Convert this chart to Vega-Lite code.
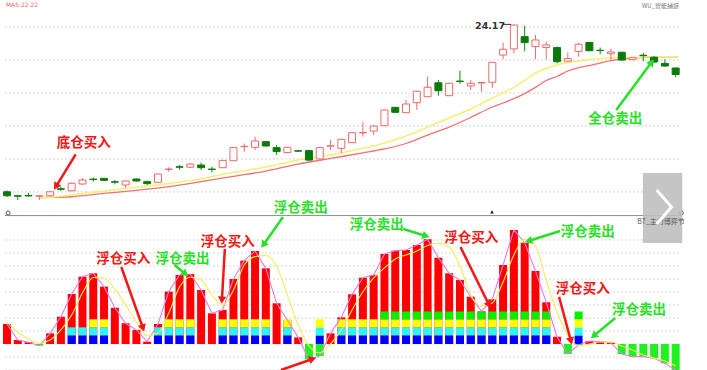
{
"$schema": "https://vega.github.io/schema/vega-lite/v6.json",
"padding": 0,
"autosize": {"type": "none"},
"width": 707,
"height": 370,
"background": "#ffffff",
"config": {"view": {"stroke": null}},
"resolve": {"scale": {"y": "independent"}},
"datasets": {
"gridTop": [{"g":14.07},{"g":16.06},{"g":18.05},{"g":20.03},{"g":22.02},{"g":24.01}],
"gridBot": [{"g":-20},{"g":-10},{"g":0},{"g":10},{"g":20},{"g":30},{"g":40},{"g":50},{"g":60},{"g":70},{"g":80}],
"frame": [{"v":98.8}],
"candles": [
{"i":0,"o":14.08,"c":13.84,"h":14.16,"l":13.77},
{"i":1,"o":13.84,"c":13.81,"h":13.89,"l":13.58},
{"i":2,"o":13.86,"c":13.83,"h":14.02,"l":13.78},
{"i":3,"o":13.81,"c":13.84,"h":13.86,"l":13.58},
{"i":4,"o":13.84,"c":14.08,"h":14.13,"l":13.80},
{"i":5,"o":14.26,"c":14.23,"h":14.39,"l":14.13},
{"i":6,"o":14.14,"c":14.59,"h":14.64,"l":14.10},
{"i":7,"o":14.55,"c":14.79,"h":14.91,"l":14.49},
{"i":8,"o":14.84,"c":14.82,"h":14.95,"l":14.69},
{"i":9,"o":14.89,"c":14.77,"h":14.91,"l":14.73},
{"i":10,"o":14.68,"c":14.66,"h":14.79,"l":14.53},
{"i":11,"o":14.49,"c":14.73,"h":14.76,"l":14.31},
{"i":12,"o":14.85,"c":14.73,"h":14.88,"l":14.70},
{"i":13,"o":14.69,"c":14.57,"h":14.76,"l":14.49},
{"i":14,"o":14.65,"c":15.15,"h":15.18,"l":14.64},
{"i":15,"o":15.42,"c":15.45,"h":15.56,"l":15.29},
{"i":16,"o":15.59,"c":15.56,"h":15.69,"l":15.41},
{"i":17,"o":15.56,"c":15.75,"h":15.81,"l":15.51},
{"i":18,"o":15.69,"c":15.53,"h":15.84,"l":15.39},
{"i":19,"o":15.45,"c":15.42,"h":15.59,"l":15.25},
{"i":20,"o":15.53,"c":15.97,"h":16.00,"l":15.51},
{"i":21,"o":15.95,"c":16.74,"h":16.78,"l":15.94},
{"i":22,"o":16.80,"c":16.82,"h":16.98,"l":16.50},
{"i":23,"o":16.76,"c":17.14,"h":17.40,"l":16.60},
{"i":24,"o":17.10,"c":16.84,"h":17.14,"l":16.78},
{"i":25,"o":16.74,"c":16.50,"h":16.90,"l":16.30},
{"i":26,"o":16.44,"c":16.76,"h":16.78,"l":16.39},
{"i":27,"o":16.55,"c":16.53,"h":16.60,"l":16.48},
{"i":28,"o":16.56,"c":15.99,"h":16.60,"l":15.94},
{"i":29,"o":16.06,"c":16.74,"h":16.78,"l":16.03},
{"i":30,"o":16.83,"c":16.85,"h":17.20,"l":16.60},
{"i":31,"o":16.70,"c":17.24,"h":17.26,"l":16.40},
{"i":32,"o":17.04,"c":17.64,"h":17.68,"l":17.02},
{"i":33,"o":17.63,"c":17.65,"h":18.30,"l":17.40},
{"i":34,"o":17.74,"c":18.04,"h":18.10,"l":17.50},
{"i":35,"o":18.06,"c":19.01,"h":19.04,"l":18.04},
{"i":36,"o":19.17,"c":18.87,"h":19.19,"l":18.85},
{"i":37,"o":18.85,"c":19.37,"h":19.61,"l":18.83},
{"i":38,"o":19.45,"c":20.14,"h":20.18,"l":19.01},
{"i":39,"o":19.81,"c":20.38,"h":21.02,"l":19.79},
{"i":40,"o":20.65,"c":20.17,"h":20.82,"l":19.87},
{"i":41,"o":19.87,"c":20.62,"h":20.64,"l":19.85},
{"i":42,"o":20.75,"c":20.73,"h":21.38,"l":20.59},
{"i":43,"o":20.46,"c":20.62,"h":20.82,"l":20.21},
{"i":44,"o":20.64,"c":20.67,"h":20.70,"l":20.11},
{"i":45,"o":20.68,"c":21.88,"h":21.90,"l":20.34},
{"i":46,"o":22.32,"c":22.67,"h":23.07,"l":22.07},
{"i":47,"o":22.69,"c":24.13,"h":24.17,"l":22.43},
{"i":48,"o":23.43,"c":23.07,"h":24.09,"l":22.54},
{"i":49,"o":22.83,"c":23.23,"h":23.53,"l":22.07},
{"i":50,"o":22.78,"c":22.93,"h":23.13,"l":22.07},
{"i":51,"o":22.77,"c":21.92,"h":22.83,"l":21.82},
{"i":52,"o":21.95,"c":22.11,"h":22.48,"l":21.93},
{"i":53,"o":22.54,"c":22.97,"h":23.07,"l":22.22},
{"i":54,"o":23.08,"c":22.58,"h":23.11,"l":22.57},
{"i":55,"o":22.61,"c":22.59,"h":22.77,"l":22.37},
{"i":56,"o":22.40,"c":22.51,"h":22.70,"l":22.02},
{"i":57,"o":22.49,"c":22.02,"h":22.51,"l":21.99},
{"i":58,"o":22.04,"c":22.16,"h":22.17,"l":22.02},
{"i":59,"o":22.31,"c":22.29,"h":22.46,"l":21.95},
{"i":60,"o":22.19,"c":21.90,"h":22.26,"l":21.87},
{"i":61,"o":21.82,"c":21.66,"h":22.07,"l":21.62},
{"i":62,"o":21.54,"c":21.15,"h":21.57,"l":20.98}
],
"ma": [
{"i":3,"m1":13.73,"m2":13.73},{"i":4,"m1":13.75,"m2":13.74},{"i":6,"m1":13.89,"m2":13.78},
{"i":9,"m1":14.13,"m2":13.98},{"i":12,"m1":14.36,"m2":14.17},{"i":15,"m1":14.58,"m2":14.39},
{"i":18,"m1":14.87,"m2":14.69},{"i":21,"m1":15.25,"m2":15.01},{"i":24,"m1":15.57,"m2":15.33},
{"i":27,"m1":16.00,"m2":15.75},{"i":30,"m1":16.30,"m2":16.09},{"i":33,"m1":16.70,"m2":16.42},
{"i":35,"m1":17.02,"m2":16.66},{"i":37,"m1":17.44,"m2":16.99},{"i":39,"m1":17.98,"m2":17.50},
{"i":41,"m1":18.53,"m2":17.98},{"i":43,"m1":19.07,"m2":18.56},{"i":45,"m1":19.73,"m2":19.19},
{"i":46,"m1":20.03,"m2":19.43},{"i":47,"m1":20.37,"m2":19.70},{"i":48,"m1":20.79,"m2":20.00},
{"i":49,"m1":21.24,"m2":20.37},{"i":50,"m1":21.52,"m2":20.79},{"i":51,"m1":21.72,"m2":21.03},
{"i":52,"m1":21.87,"m2":21.36},{"i":53,"m1":21.96,"m2":21.57},{"i":54,"m1":22.05,"m2":21.69},
{"i":55,"m1":22.11,"m2":21.84},{"i":56,"m1":22.16,"m2":21.99},{"i":57,"m1":22.17,"m2":22.08},
{"i":58,"m1":22.19,"m2":22.13},{"i":59,"m1":22.20,"m2":22.19},{"i":60,"m1":22.22,"m2":22.20},
{"i":61,"m1":22.22,"m2":22.22},{"i":62.2,"m1":22.22,"m2":22.22}
],
"osc": [
{"i":0,"v":15.4,"lvl":0,"m":16.9},{"i":1,"v":3.1,"lvl":0,"m":9.2},{"i":2,"v":1.3,"lvl":0,"m":3.8},
{"i":3,"v":-1.3,"lvl":0,"m":0.8},{"i":4,"v":8.2,"lvl":0,"m":3.1},{"i":5,"v":21,"lvl":0,"m":10.8},
{"i":6,"v":38.5,"lvl":2,"m":22.3},{"i":7,"v":51.8,"lvl":2,"m":39.2},{"i":8,"v":54.4,"lvl":3,"m":51.2},
{"i":9,"v":44.1,"lvl":3,"m":50.8},{"i":10,"v":27.9,"lvl":0,"m":42.3},{"i":11,"v":15.9,"lvl":0,"m":30},
{"i":12,"v":10.8,"lvl":0,"m":16.9},{"i":13,"v":1.8,"lvl":0,"m":6.2},{"i":14,"v":15.4,"lvl":2,"m":8.5},
{"i":15,"v":40.3,"lvl":3,"m":23.8},{"i":16,"v":53.1,"lvl":3,"m":43.8},{"i":17,"v":53.8,"lvl":3,"m":51.5},
{"i":18,"v":41.5,"lvl":0,"m":49.2},{"i":19,"v":23.6,"lvl":0,"m":37.7},{"i":20,"v":26.2,"lvl":3,"m":30},
{"i":21,"v":50,"lvl":3,"m":41.5},{"i":22,"v":64.1,"lvl":3,"m":60.8},{"i":23,"v":71.5,"lvl":3,"m":67.2},
{"i":24,"v":58.2,"lvl":3,"m":68.1},{"i":25,"v":31.3,"lvl":0,"m":60},{"i":26,"v":18.5,"lvl":3,"m":37.7},
{"i":27,"v":5.1,"lvl":0,"m":14.6},{"i":28,"v":-11.8,"lvl":0,"m":-1.5},{"i":29,"v":-9.2,"lvl":3,"m":-6.9},
{"i":30,"v":8.2,"lvl":0,"m":0},{"i":31,"v":20.5,"lvl":3,"m":10.8},{"i":32,"v":38.2,"lvl":3,"m":26.2},
{"i":33,"v":51,"lvl":3,"m":40.2},{"i":34,"v":53.1,"lvl":3,"m":50.8},{"i":35,"v":69.2,"lvl":4,"m":58.5},
{"i":36,"v":71.8,"lvl":4,"m":65.4},{"i":37,"v":72.3,"lvl":4,"m":68.5},{"i":38,"v":76.2,"lvl":4,"m":71.5},
{"i":39,"v":80.5,"lvl":4,"m":75.8},{"i":40,"v":66.4,"lvl":4,"m":77.5},{"i":41,"v":54.4,"lvl":4,"m":74.6},
{"i":42,"v":49.2,"lvl":4,"m":60},{"i":43,"v":36.4,"lvl":4,"m":37.7},{"i":44,"v":25.1,"lvl":4,"m":29.2},
{"i":45,"v":34.4,"lvl":4,"m":31.5},{"i":46,"v":60.8,"lvl":4,"m":47.7},{"i":47,"v":87.7,"lvl":4,"m":68.5},
{"i":48,"v":77.9,"lvl":4,"m":80.8},{"i":49,"v":56.2,"lvl":4,"m":75.4},{"i":50,"v":32.1,"lvl":4,"m":49.2},
{"i":51,"v":5.6,"lvl":0,"m":24.6},{"i":52,"v":-7.7,"lvl":0,"m":6.9},{"i":53,"v":-0.8,"lvl":4,"m":-1.5},
{"i":54,"v":2.3,"lvl":0,"m":0},{"i":55,"v":1.8,"lvl":0,"m":1.5},{"i":56,"v":0.8,"lvl":0,"m":1.5},
{"i":57,"v":-7.7,"lvl":0,"m":-1.5},{"i":58,"v":-9.7,"lvl":0,"m":-4.6},{"i":59,"v":-9.7,"lvl":0,"m":-8.5},
{"i":60,"v":-11,"lvl":0,"m":-10.8},{"i":61,"v":-14.9,"lvl":0,"m":-13.1},{"i":62,"v":-20,"lvl":0,"m":-16.9}
],
"annTop": [
{"i":7.13,"p":17.02,"t":"底仓买入","kind":"buy"},
{"i":56.4,"p":18.47,"t":"全仓卖出","kind":"sell"}
],
"arrTop": [
{"i1":6.37,"p1":16.34,"i2":4.54,"p2":14.39,"kind":"buy","heading":211},
{"i1":56.49,"p1":19.01,"i2":59.78,"p2":21.90,"kind":"sell","heading":37}
],
"high": [{"i":44.79,"p":24.07,"t":"24.17","i2":46.75,"p2":24.17,"i0":45.98}],
"tiny": [
{"i":-0.1,"p":25.33,"t":"MA5:22.22","pos":"left"},
{"i":60.6,"p":25.28,"t":"WU_智能捕捉","pos":"right"}
],
"annBot": [
{"i":10.79,"v":65.4,"t":"浮仓买入","kind":"buy"},
{"i":16.27,"v":65.4,"t":"浮仓卖出","kind":"sell"},
{"i":20.48,"v":78.5,"t":"浮仓买入","kind":"buy"},
{"i":27.24,"v":104.6,"t":"浮仓卖出","kind":"sell"},
{"i":34.28,"v":91.5,"t":"浮仓卖出","kind":"sell"},
{"i":43.05,"v":81.5,"t":"浮仓买入","kind":"buy"},
{"i":53.84,"v":86.2,"t":"浮仓卖出","kind":"sell"},
{"i":53.38,"v":42.3,"t":"浮仓买入","kind":"buy"},
{"i":58.59,"v":26.2,"t":"浮仓卖出","kind":"sell"}
],
"arrBot": [
{"i1":10.60,"v1":59.2,"i2":12.61,"v2":12.3,"kind":"buy","heading":160},
{"i1":15.54,"v1":60.8,"i2":16.54,"v2":53.8,"kind":"sell","heading":129},
{"i1":20.2,"v1":73.1,"i2":19.93,"v2":33.8,"kind":"buy","heading":183},
{"i1":25.59,"v1":97.7,"i2":23.77,"v2":76.2,"kind":"sell","heading":216},
{"i1":25.41,"v1":-20,"i2":28.34,"v2":-11.5,"kind":"buy","heading":71},
{"i1":36.75,"v1":88.5,"i2":38.85,"v2":83.1,"kind":"sell","heading":107},
{"i1":42.05,"v1":74.6,"i2":44.7,"v2":30,"kind":"buy","heading":153},
{"i1":51.28,"v1":86.9,"i2":48.35,"v2":79.2,"kind":"sell","heading":253},
{"i1":51.19,"v1":36.2,"i2":52.29,"v2":2.3,"kind":"buy","heading":165},
{"i1":56.4,"v1":20,"i2":54.39,"v2":6.2,"kind":"sell","heading":231}
],
"ends": [{"i":0.1,"v":100.8},{"i":62.52,"v":100.8}],
"tri": [{"i":44.97,"v":101.6}],
"navBox": [{"i1":58.96,"i2":62.61,"v1":77.7,"v2":131.5}],
"chev": [{"i":60.24,"v":118.5,"o":1},{"i":61.61,"v":105.4,"o":2},{"i":60.24,"v":92.3,"o":3}],
"navText": [{"i":60.65,"v":94.2,"t":"BT_主力博弈节"}]
},
"layer": [
{"data": {"name": "gridTop"}, "mark": {"type": "rule", "color": "#d4d4d4", "strokeDash": [2, 2], "strokeWidth": 1},
 "encoding": {"x": {"datum": -0.183, "type": "quantitative", "scale": {"domain": [-0.183, 64.442], "nice": false, "zero": false}, "axis": null},
  "x2": {"datum": 62.52},
  "y": {"field": "g", "type": "quantitative", "scale": {"domain": [3.336, 25.64], "nice": false, "zero": false}, "axis": null}}},
{"data": {"name": "ma"}, "mark": {"type": "line", "color": "#f07272", "strokeWidth": 1.3, "interpolate": "monotone"},
 "encoding": {"x": {"field": "i", "type": "quantitative", "scale": {"domain": [-0.183, 64.442], "nice": false, "zero": false}, "axis": null},
  "y": {"field": "m2", "type": "quantitative", "scale": {"domain": [3.336, 25.64], "nice": false, "zero": false}, "axis": null}}},
{"data": {"name": "ma"}, "mark": {"type": "line", "color": "#f6ef70", "strokeWidth": 1.5, "interpolate": "monotone"},
 "encoding": {"x": {"field": "i", "type": "quantitative", "scale": {"domain": [-0.183, 64.442], "nice": false, "zero": false}, "axis": null},
  "y": {"field": "m1", "type": "quantitative", "scale": {"domain": [3.336, 25.64], "nice": false, "zero": false}, "axis": null}}},
{"data": {"name": "candles"}, "mark": {"type": "rule", "strokeWidth": 1, "clip": true},
 "encoding": {"x": {"field": "i", "type": "quantitative", "scale": {"domain": [-0.183, 64.442], "nice": false, "zero": false}, "axis": null},
  "y": {"field": "l", "type": "quantitative", "scale": {"domain": [3.336, 25.64], "nice": false, "zero": false}, "axis": null},
  "y2": {"field": "h"},
  "color": {"condition": {"test": "datum.c > datum.o", "value": "#ee6a6a"}, "value": "#128a12"}}},
{"data": {"name": "candles"}, "mark": {"type": "bar", "size": 7, "strokeWidth": 1, "clip": true},
 "encoding": {"x": {"field": "i", "type": "quantitative", "scale": {"domain": [-0.183, 64.442], "nice": false, "zero": false}, "axis": null},
  "y": {"field": "o", "type": "quantitative", "scale": {"domain": [3.336, 25.64], "nice": false, "zero": false}, "axis": null},
  "y2": {"field": "c"},
  "fill": {"condition": {"test": "datum.c > datum.o", "value": "#ffffff"}, "value": "#0b7a0b"},
  "stroke": {"condition": {"test": "datum.c > datum.o", "value": "#ee6a6a"}, "value": "#0b7a0b"}}},
{"data": {"name": "high"}, "mark": {"type": "text", "font": "DejaVu Sans", "fontSize": 9.5, "fontWeight": "bold", "color": "#333333", "baseline": "middle"},
 "encoding": {"x": {"field": "i", "type": "quantitative", "scale": {"domain": [-0.183, 64.442], "nice": false, "zero": false}, "axis": null},
  "y": {"field": "p", "type": "quantitative", "scale": {"domain": [3.336, 25.64], "nice": false, "zero": false}, "axis": null},
  "text": {"field": "t"}}},
{"data": {"name": "high"}, "mark": {"type": "rule", "color": "#333333", "strokeWidth": 1},
 "encoding": {"x": {"field": "i0", "type": "quantitative", "scale": {"domain": [-0.183, 64.442], "nice": false, "zero": false}, "axis": null},
  "x2": {"field": "i2"},
  "y": {"field": "p2", "type": "quantitative", "scale": {"domain": [3.336, 25.64], "nice": false, "zero": false}, "axis": null}}},
{"data": {"name": "arrTop"}, "mark": {"type": "rule", "strokeWidth": 2.5},
 "encoding": {"x": {"field": "i1", "type": "quantitative", "scale": {"domain": [-0.183, 64.442], "nice": false, "zero": false}, "axis": null},
  "x2": {"field": "i2"},
  "y": {"field": "p1", "type": "quantitative", "scale": {"domain": [3.336, 25.64], "nice": false, "zero": false}, "axis": null},
  "y2": {"field": "p2"},
  "color": {"field": "kind", "type": "nominal", "scale": {"domain": ["buy", "sell"], "range": ["#f01818", "#27e027"]}, "legend": null}}},
{"data": {"name": "arrTop"}, "mark": {"type": "point", "shape": "triangle-up", "filled": true, "size": 70, "opacity": 1},
 "encoding": {"x": {"field": "i2", "type": "quantitative", "scale": {"domain": [-0.183, 64.442], "nice": false, "zero": false}, "axis": null},
  "y": {"field": "p2", "type": "quantitative", "scale": {"domain": [3.336, 25.64], "nice": false, "zero": false}, "axis": null},
  "angle": {"field": "heading", "type": "quantitative", "scale": null},
  "color": {"field": "kind", "type": "nominal", "scale": {"domain": ["buy", "sell"], "range": ["#f01818", "#27e027"]}, "legend": null}}},
{"data": {"name": "annTop"}, "mark": {"type": "text", "font": "Noto Sans CJK SC", "fontSize": 13.5, "fontWeight": "bold", "baseline": "middle"},
 "encoding": {"x": {"field": "i", "type": "quantitative", "scale": {"domain": [-0.183, 64.442], "nice": false, "zero": false}, "axis": null},
  "y": {"field": "p", "type": "quantitative", "scale": {"domain": [3.336, 25.64], "nice": false, "zero": false}, "axis": null},
  "text": {"field": "t"},
  "color": {"field": "kind", "type": "nominal", "scale": {"domain": ["buy", "sell"], "range": ["#f01818", "#27e027"]}, "legend": null}}},
{"data": {"name": "tiny"}, "transform": [{"filter": "datum.pos == 'left'"}], "mark": {"type": "text", "font": "DejaVu Sans", "fontSize": 6, "color": "#e06a6a", "align": "left", "baseline": "middle"},
 "encoding": {"x": {"field": "i", "type": "quantitative", "scale": {"domain": [-0.183, 64.442], "nice": false, "zero": false}, "axis": null},
  "y": {"field": "p", "type": "quantitative", "scale": {"domain": [3.336, 25.64], "nice": false, "zero": false}, "axis": null},
  "text": {"field": "t"}}},
{"data": {"name": "tiny"}, "transform": [{"filter": "datum.pos == 'right'"}], "mark": {"type": "text", "font": "Noto Sans CJK SC", "fontSize": 6, "color": "#777777", "baseline": "middle"},
 "encoding": {"x": {"field": "i", "type": "quantitative", "scale": {"domain": [-0.183, 64.442], "nice": false, "zero": false}, "axis": null},
  "y": {"field": "p", "type": "quantitative", "scale": {"domain": [3.336, 25.64], "nice": false, "zero": false}, "axis": null},
  "text": {"field": "t"}}},
{"data": {"name": "gridBot"}, "mark": {"type": "rule", "color": "#d8d8d8", "strokeDash": [2, 2], "strokeWidth": 1},
 "encoding": {"x": {"datum": -0.183, "type": "quantitative", "scale": {"domain": [-0.183, 64.442], "nice": false, "zero": false}, "axis": null},
  "x2": {"datum": 62.52},
  "y": {"field": "g", "type": "quantitative", "scale": {"domain": [-20, 264.615], "nice": false, "zero": false}, "axis": null}}},
{"data": {"name": "frame"}, "mark": {"type": "rule", "color": "#8f8f8f", "strokeWidth": 1},
 "encoding": {"x": {"datum": -0.183, "type": "quantitative", "scale": {"domain": [-0.183, 64.442], "nice": false, "zero": false}, "axis": null},
  "x2": {"datum": 62.52},
  "y": {"field": "v", "type": "quantitative", "scale": {"domain": [-20, 264.615], "nice": false, "zero": false}, "axis": null}}},
{"data": {"name": "osc"}, "transform": [{"filter": "datum.v >= 0"}], "mark": {"type": "bar", "size": 8, "color": "#ff0000", "clip": true},
 "encoding": {"x": {"field": "i", "type": "quantitative", "scale": {"domain": [-0.183, 64.442], "nice": false, "zero": false}, "axis": null},
  "y": {"field": "v", "type": "quantitative", "scale": {"domain": [-20, 264.615], "nice": false, "zero": false}, "axis": null},
  "y2": {"datum": 0}}},
{"data": {"name": "osc"}, "transform": [{"filter": "datum.v < 0"}], "mark": {"type": "bar", "size": 8, "color": "#1ff01f", "clip": true},
 "encoding": {"x": {"field": "i", "type": "quantitative", "scale": {"domain": [-0.183, 64.442], "nice": false, "zero": false}, "axis": null},
  "y": {"field": "v", "type": "quantitative", "scale": {"domain": [-20, 264.615], "nice": false, "zero": false}, "axis": null},
  "y2": {"datum": 0}}},
{"data": {"name": "osc"}, "transform": [{"filter": "datum.lvl >= 1"}], "mark": {"type": "bar", "size": 8, "color": "#0000ff"},
 "encoding": {"x": {"field": "i", "type": "quantitative", "scale": {"domain": [-0.183, 64.442], "nice": false, "zero": false}, "axis": null},
  "y": {"datum": 0, "type": "quantitative", "scale": {"domain": [-20, 264.615], "nice": false, "zero": false}, "axis": null},
  "y2": {"datum": 6.6}}},
{"data": {"name": "osc"}, "transform": [{"filter": "datum.lvl >= 2"}], "mark": {"type": "bar", "size": 8, "color": "#2af5f5"},
 "encoding": {"x": {"field": "i", "type": "quantitative", "scale": {"domain": [-0.183, 64.442], "nice": false, "zero": false}, "axis": null},
  "y": {"datum": 6.6, "type": "quantitative", "scale": {"domain": [-20, 264.615], "nice": false, "zero": false}, "axis": null},
  "y2": {"datum": 12.8}}},
{"data": {"name": "osc"}, "transform": [{"filter": "datum.lvl >= 3"}], "mark": {"type": "bar", "size": 8, "color": "#ffff00"},
 "encoding": {"x": {"field": "i", "type": "quantitative", "scale": {"domain": [-0.183, 64.442], "nice": false, "zero": false}, "axis": null},
  "y": {"datum": 12.8, "type": "quantitative", "scale": {"domain": [-20, 264.615], "nice": false, "zero": false}, "axis": null},
  "y2": {"datum": 19}}},
{"data": {"name": "osc"}, "transform": [{"filter": "datum.lvl >= 4"}], "mark": {"type": "bar", "size": 8, "color": "#00f000"},
 "encoding": {"x": {"field": "i", "type": "quantitative", "scale": {"domain": [-0.183, 64.442], "nice": false, "zero": false}, "axis": null},
  "y": {"datum": 19, "type": "quantitative", "scale": {"domain": [-20, 264.615], "nice": false, "zero": false}, "axis": null},
  "y2": {"datum": 25}}},
{"data": {"name": "osc"}, "mark": {"type": "line", "color": "#e27ee6", "strokeWidth": 1.1},
 "encoding": {"x": {"field": "i", "type": "quantitative", "scale": {"domain": [-0.183, 64.442], "nice": false, "zero": false}, "axis": null},
  "y": {"field": "v", "type": "quantitative", "scale": {"domain": [-20, 264.615], "nice": false, "zero": false}, "axis": null}}},
{"data": {"name": "osc"}, "mark": {"type": "line", "color": "#f4ec55", "strokeWidth": 1.1, "interpolate": "monotone"},
 "encoding": {"x": {"field": "i", "type": "quantitative", "scale": {"domain": [-0.183, 64.442], "nice": false, "zero": false}, "axis": null},
  "y": {"field": "m", "type": "quantitative", "scale": {"domain": [-20, 264.615], "nice": false, "zero": false}, "axis": null}}},
{"data": {"name": "arrBot"}, "mark": {"type": "rule", "strokeWidth": 2.5},
 "encoding": {"x": {"field": "i1", "type": "quantitative", "scale": {"domain": [-0.183, 64.442], "nice": false, "zero": false}, "axis": null},
  "x2": {"field": "i2"},
  "y": {"field": "v1", "type": "quantitative", "scale": {"domain": [-20, 264.615], "nice": false, "zero": false}, "axis": null},
  "y2": {"field": "v2"},
  "color": {"field": "kind", "type": "nominal", "scale": {"domain": ["buy", "sell"], "range": ["#f01818", "#27e027"]}, "legend": null}}},
{"data": {"name": "arrBot"}, "mark": {"type": "point", "shape": "triangle-up", "filled": true, "size": 70, "opacity": 1},
 "encoding": {"x": {"field": "i2", "type": "quantitative", "scale": {"domain": [-0.183, 64.442], "nice": false, "zero": false}, "axis": null},
  "y": {"field": "v2", "type": "quantitative", "scale": {"domain": [-20, 264.615], "nice": false, "zero": false}, "axis": null},
  "angle": {"field": "heading", "type": "quantitative", "scale": null},
  "color": {"field": "kind", "type": "nominal", "scale": {"domain": ["buy", "sell"], "range": ["#f01818", "#27e027"]}, "legend": null}}},
{"data": {"name": "annBot"}, "mark": {"type": "text", "font": "Noto Sans CJK SC", "fontSize": 13.5, "fontWeight": "bold", "baseline": "middle"},
 "encoding": {"x": {"field": "i", "type": "quantitative", "scale": {"domain": [-0.183, 64.442], "nice": false, "zero": false}, "axis": null},
  "y": {"field": "v", "type": "quantitative", "scale": {"domain": [-20, 264.615], "nice": false, "zero": false}, "axis": null},
  "text": {"field": "t"},
  "color": {"field": "kind", "type": "nominal", "scale": {"domain": ["buy", "sell"], "range": ["#f01818", "#27e027"]}, "legend": null}}},
{"data": {"name": "ends"}, "mark": {"type": "point", "shape": "circle", "filled": false, "size": 16, "color": "#555555", "strokeWidth": 1, "opacity": 1},
 "encoding": {"x": {"field": "i", "type": "quantitative", "scale": {"domain": [-0.183, 64.442], "nice": false, "zero": false}, "axis": null},
  "y": {"field": "v", "type": "quantitative", "scale": {"domain": [-20, 264.615], "nice": false, "zero": false}, "axis": null}}},
{"data": {"name": "tri"}, "mark": {"type": "point", "shape": "triangle-up", "filled": true, "size": 14, "color": "#222222", "opacity": 1},
 "encoding": {"x": {"field": "i", "type": "quantitative", "scale": {"domain": [-0.183, 64.442], "nice": false, "zero": false}, "axis": null},
  "y": {"field": "v", "type": "quantitative", "scale": {"domain": [-20, 264.615], "nice": false, "zero": false}, "axis": null}}},
{"data": {"name": "navBox"}, "mark": {"type": "rect", "color": "#bdbdbd", "opacity": 0.88},
 "encoding": {"x": {"field": "i1", "type": "quantitative", "scale": {"domain": [-0.183, 64.442], "nice": false, "zero": false}, "axis": null},
  "x2": {"field": "i2"},
  "y": {"field": "v1", "type": "quantitative", "scale": {"domain": [-20, 264.615], "nice": false, "zero": false}, "axis": null},
  "y2": {"field": "v2"}}},
{"data": {"name": "navText"}, "mark": {"type": "text", "font": "Noto Sans CJK SC", "fontSize": 7, "color": "#555555", "baseline": "middle"},
 "encoding": {"x": {"field": "i", "type": "quantitative", "scale": {"domain": [-0.183, 64.442], "nice": false, "zero": false}, "axis": null},
  "y": {"field": "v", "type": "quantitative", "scale": {"domain": [-20, 264.615], "nice": false, "zero": false}, "axis": null},
  "text": {"field": "t"}}},
{"data": {"name": "chev"}, "mark": {"type": "line", "color": "#ffffff", "strokeWidth": 3},
 "encoding": {"x": {"field": "i", "type": "quantitative", "scale": {"domain": [-0.183, 64.442], "nice": false, "zero": false}, "axis": null},
  "y": {"field": "v", "type": "quantitative", "scale": {"domain": [-20, 264.615], "nice": false, "zero": false}, "axis": null},
  "order": {"field": "o"}}}
]
}
